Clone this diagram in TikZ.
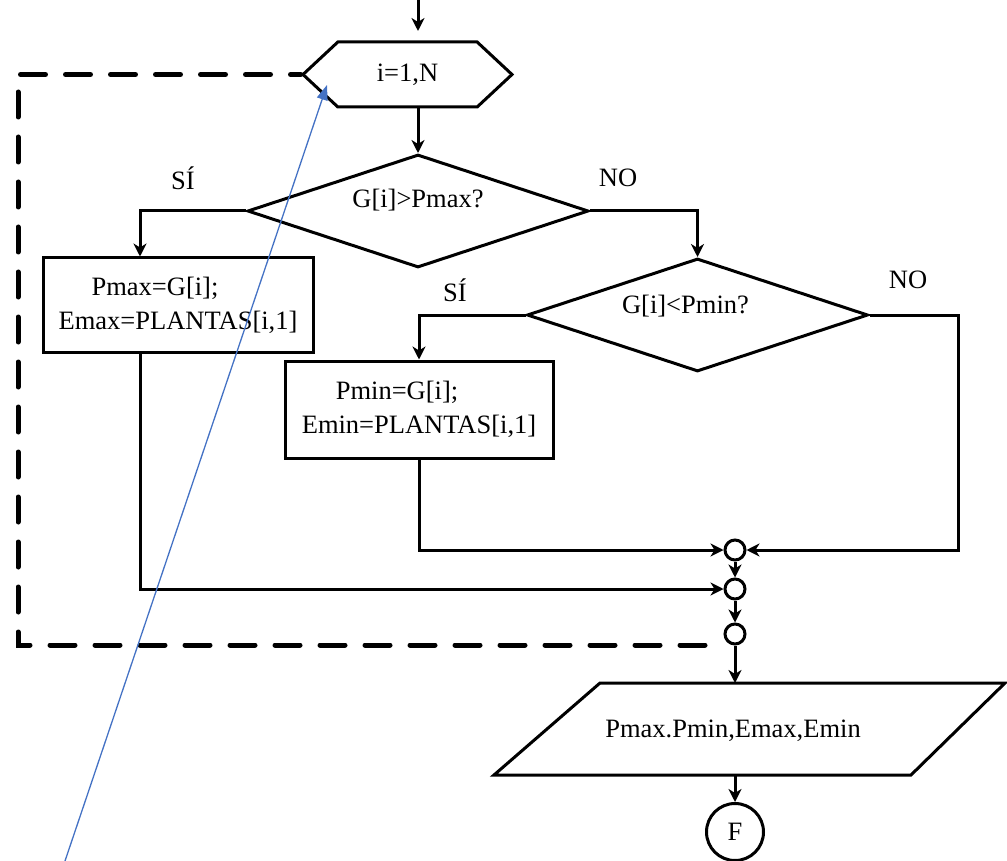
\documentclass[tikz,border=0pt]{standalone}
\usepackage{fontspec}
\setmainfont{Liberation Serif}
\usetikzlibrary{arrows.meta,shapes.geometric,shapes.symbols}
\definecolor{annot}{RGB}{68,114,196}
\begin{document}
\begin{tikzpicture}[x=1pt,y=-1pt,
  line width=3pt,
  every node/.style={font=\fontsize{26.5}{34}\selectfont},
  box/.style={draw,rectangle,inner sep=0pt,align=left},
  dec/.style={draw,diamond,inner sep=0pt,minimum width=341pt,minimum height=113pt},
  hexa/.style={draw,signal,signal to=west and east,signal pointer angle=86,minimum width=209pt,minimum height=65pt,inner sep=0pt},
  junc/.style={draw,circle,minimum size=20pt,inner sep=0pt},
  arr/.style={-{Stealth[length=13pt,width=13pt,inset=4pt]}},
  loopline/.style={dash pattern=on 25pt off 20pt,line width=5pt,line cap=round},
  note/.style={draw=annot,line width=1.3pt,-{Triangle[length=15pt,width=11pt]}},
  lbl/.style={inner sep=0pt}
]
\useasboundingbox (0,0) rectangle (1007,861);

% nodes
\node[hexa] (hex) at (407.5,74.5) {i=1,N};
\node[dec,label={[yshift=11pt]center:G[i]>Pmax?}] (d1) at (418,211) {};
\node[dec,label={[xshift=-12pt,yshift=9pt]center:G[i]<Pmin?}] (d2) at (697.5,315) {};
\node[box,minimum width=270pt,minimum height=94pt] (b1) at (178,305) {\hspace*{33pt}Pmax=G[i];\\Emax=PLANTAS[i,1]};
\node[box,minimum width=268pt,minimum height=97pt] (b2) at (419,409.5) {\hspace*{34pt}Pmin=G[i];\\Emin=PLANTAS[i,1]};
\node[junc] (c1) at (735,550) {};
\node[junc] (c2) at (735,589) {};
\node[junc] (c3) at (735,634) {};
\draw (494,775) coordinate (pbl) -- (600,683) coordinate (ptl) -- (1005,683) coordinate (ptr) -- (911,775) coordinate (pbr) -- cycle;
\node (par) at (733,731) {Pmax.Pmin,Emax,Emin};
\coordinate (parT) at (735,683);
\coordinate (parB) at (735,775);
\node[draw,circle,minimum size=57pt,inner sep=0pt] (fin) at (735,832) {F};

% labels
\node[lbl] (l1) at (183,178) {SÍ};
\node[lbl] (l2) at (618,178) {NO};
\node[lbl] (l3) at (455,290) {SÍ};
\node[lbl] (l4) at (908,280) {NO};

% helper coordinates
\coordinate (top) at (418,0);
\coordinate (topend) at (418,31);
\coordinate (colA) at (140,0);
\coordinate (loopend) at (705,645);
\coordinate (ll) at (18,645);

% connectors
\draw[arr] (top) -- (topend);
\draw[arr] (hex.south -| d1.north) -- (d1.north);
\draw[arr] (d1.west) -| (colA |- b1.north);
\draw[arr] (d1.east) -| (d2.north);
\draw[arr] (d2.west) -| (b2.north);
\draw[arr] (b2.south) |- (c1.west);
\draw[arr] (d2.east) -- ++(89,0) |- (c1.east);
\draw[arr] (colA |- b1.south) |- (c2.west);
\draw[arr] (c1.south) -- (c2.north);
\draw[arr] (c2.south) -- (c3.north);
\draw[arr] (c3.south) -- (parT);
\draw[arr] (parB) -- (fin.north);

% loop-back dashed line
\draw[loopline] (loopend) -- (ll) -- (ll |- hex.west) -- (hex.west);

% annotation arrow
\coordinate (nb) at (65,861);
\coordinate (nt) at (327,85);
\draw[note] (nb) -- (nt);
\end{tikzpicture}
\end{document}
